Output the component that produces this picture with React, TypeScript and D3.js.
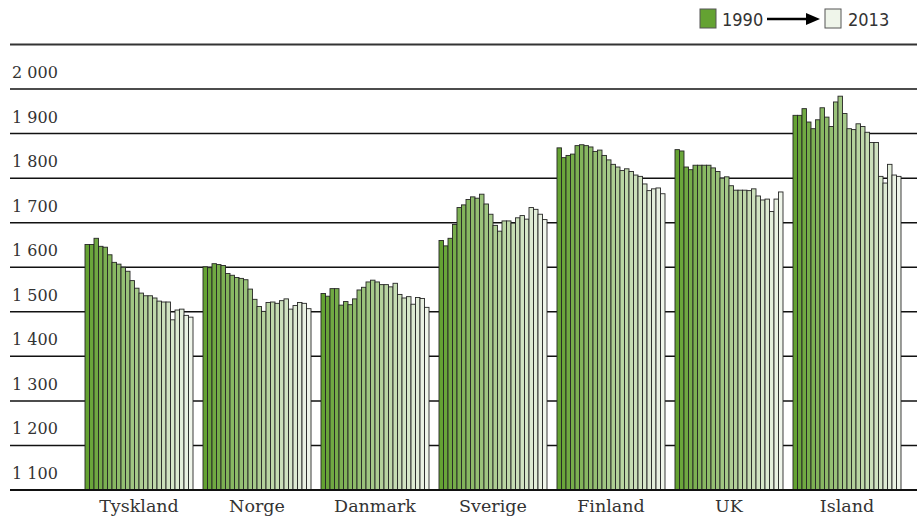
import React from "react";
import * as d3 from "d3";

const countries = ["Tyskland", "Norge", "Danmark", "Sverige", "Finland", "UK", "Island"];
const years = d3.range(1990, 2014).map(String);

const tyskland = [1651,1651,1665,1647,1645,1628,1611,1607,1600,1591,1570,1553,1542,1536,1536,1531,1524,1522,1522,1482,1504,1506,1492,1488];
const norge = [1601,1599,1608,1606,1604,1586,1582,1577,1575,1572,1551,1528,1512,1501,1521,1522,1519,1525,1529,1506,1514,1521,1519,1507];
const danmark = [1541,1535,1552,1552,1515,1523,1516,1529,1549,1555,1567,1571,1567,1561,1561,1556,1564,1539,1531,1534,1517,1532,1530,1510];
const sverige = [1660,1648,1665,1696,1734,1740,1752,1758,1755,1764,1742,1719,1694,1681,1704,1704,1699,1711,1716,1708,1734,1730,1719,1707];
const finland = [1868,1846,1851,1854,1873,1875,1873,1870,1860,1863,1851,1841,1831,1825,1817,1821,1815,1807,1804,1787,1772,1776,1778,1765];
const uk = [1864,1861,1825,1819,1829,1829,1829,1829,1823,1815,1800,1803,1783,1773,1773,1773,1772,1776,1760,1751,1753,1725,1753,1769];
const island = [1941,1941,1956,1926,1911,1931,1958,1937,1916,1971,1984,1945,1911,1909,1922,1916,1903,1880,1880,1804,1789,1831,1807,1804];

const seriesValues = [tyskland, norge, danmark, sverige, finland, uk, island];
const yTicks = [1100, 1200, 1300, 1400, 1500, 1600, 1700, 1800, 1900, 2000];
const legendLabels = ["1990", "2013"];

const W = 917;
const H = 518;
const serif = "'DejaVu Serif', serif";
const condensed = "'Liberation Sans Narrow', 'DejaVu Sans Condensed', 'Roboto Condensed', sans-serif";

export default function App() {
  const x = d3.scaleBand<string>().domain(countries).range([80, 906]).paddingInner(0.0847).paddingOuter(0.0424);
  const xi = d3.scaleBand<string>().domain(years).range([0, x.bandwidth()]).padding(0);
  const y = d3.scaleLinear().domain([1100, 2100]).range([490, 44.5]);
  const color = d3.scaleLinear<string>().domain([0, years.length - 1]).range(["#64a232", "#eff5ea"]).interpolate(d3.interpolateRgb);
  const fmt = d3.formatLocale({ decimal: ",", thousands: "\u2009", grouping: [3], currency: ["", ""] }).format(",d");
  const fmtSp = (v: number) => fmt(v).replace("\u2009", " ");

  return (
    <svg width={W} height={H} style={{ position: "absolute", left: 0, top: 0, background: "#fff" }}>
      <line x1={10} x2={W} y1={y(2100)} y2={y(2100)} stroke="#333" strokeWidth={2} />
      {yTicks.slice(1).map((t) => (
        <line key={t} x1={10} x2={W} y1={y(t)} y2={y(t)} stroke="#111" strokeWidth={1.5} />
      ))}
      {yTicks.map((t) => (
        <text key={"l" + t} x={12} y={y(t) - 11} fontFamily={serif} fontSize={16} fill="#333">
          {fmtSp(t)}
        </text>
      ))}
      {countries.map((c, ci) => (
        <g key={c} transform={`translate(${x(c)},0)`}>
          {seriesValues[ci].map((v, i) => (
            <rect
              key={i}
              x={xi(years[i])}
              y={y(v)}
              width={xi.bandwidth()}
              height={y(1100) - y(v)}
              fill={color(i)}
              stroke="#262626"
              strokeWidth={0.9}
            />
          ))}
          <text x={x.bandwidth() / 2} y={512} textAnchor="middle" fontFamily={serif} fontSize={17.5} fill="#333">
            {c}
          </text>
        </g>
      ))}
      <line x1={10} x2={W} y1={y(1100)} y2={y(1100)} stroke="#111" strokeWidth={2} />
      <rect x={700} y={9} width={16} height={19} fill={color(0)} stroke="#555" strokeWidth={1} />
      <text x={722} y={26} fontFamily={condensed} fontSize={18} fill="#333">{legendLabels[0]}</text>
      <line x1={767} x2={808} y1={19} y2={19} stroke="#000" strokeWidth={2.5} />
      <path d="M806,13 L820,19 L806,25 Z" fill="#000" />
      <rect x={825} y={9} width={16} height={19} fill={color(years.length - 1)} stroke="#555" strokeWidth={1} />
      <text x={848} y={26} fontFamily={condensed} fontSize={18} fill="#333">{legendLabels[1]}</text>
    </svg>
  );
}
